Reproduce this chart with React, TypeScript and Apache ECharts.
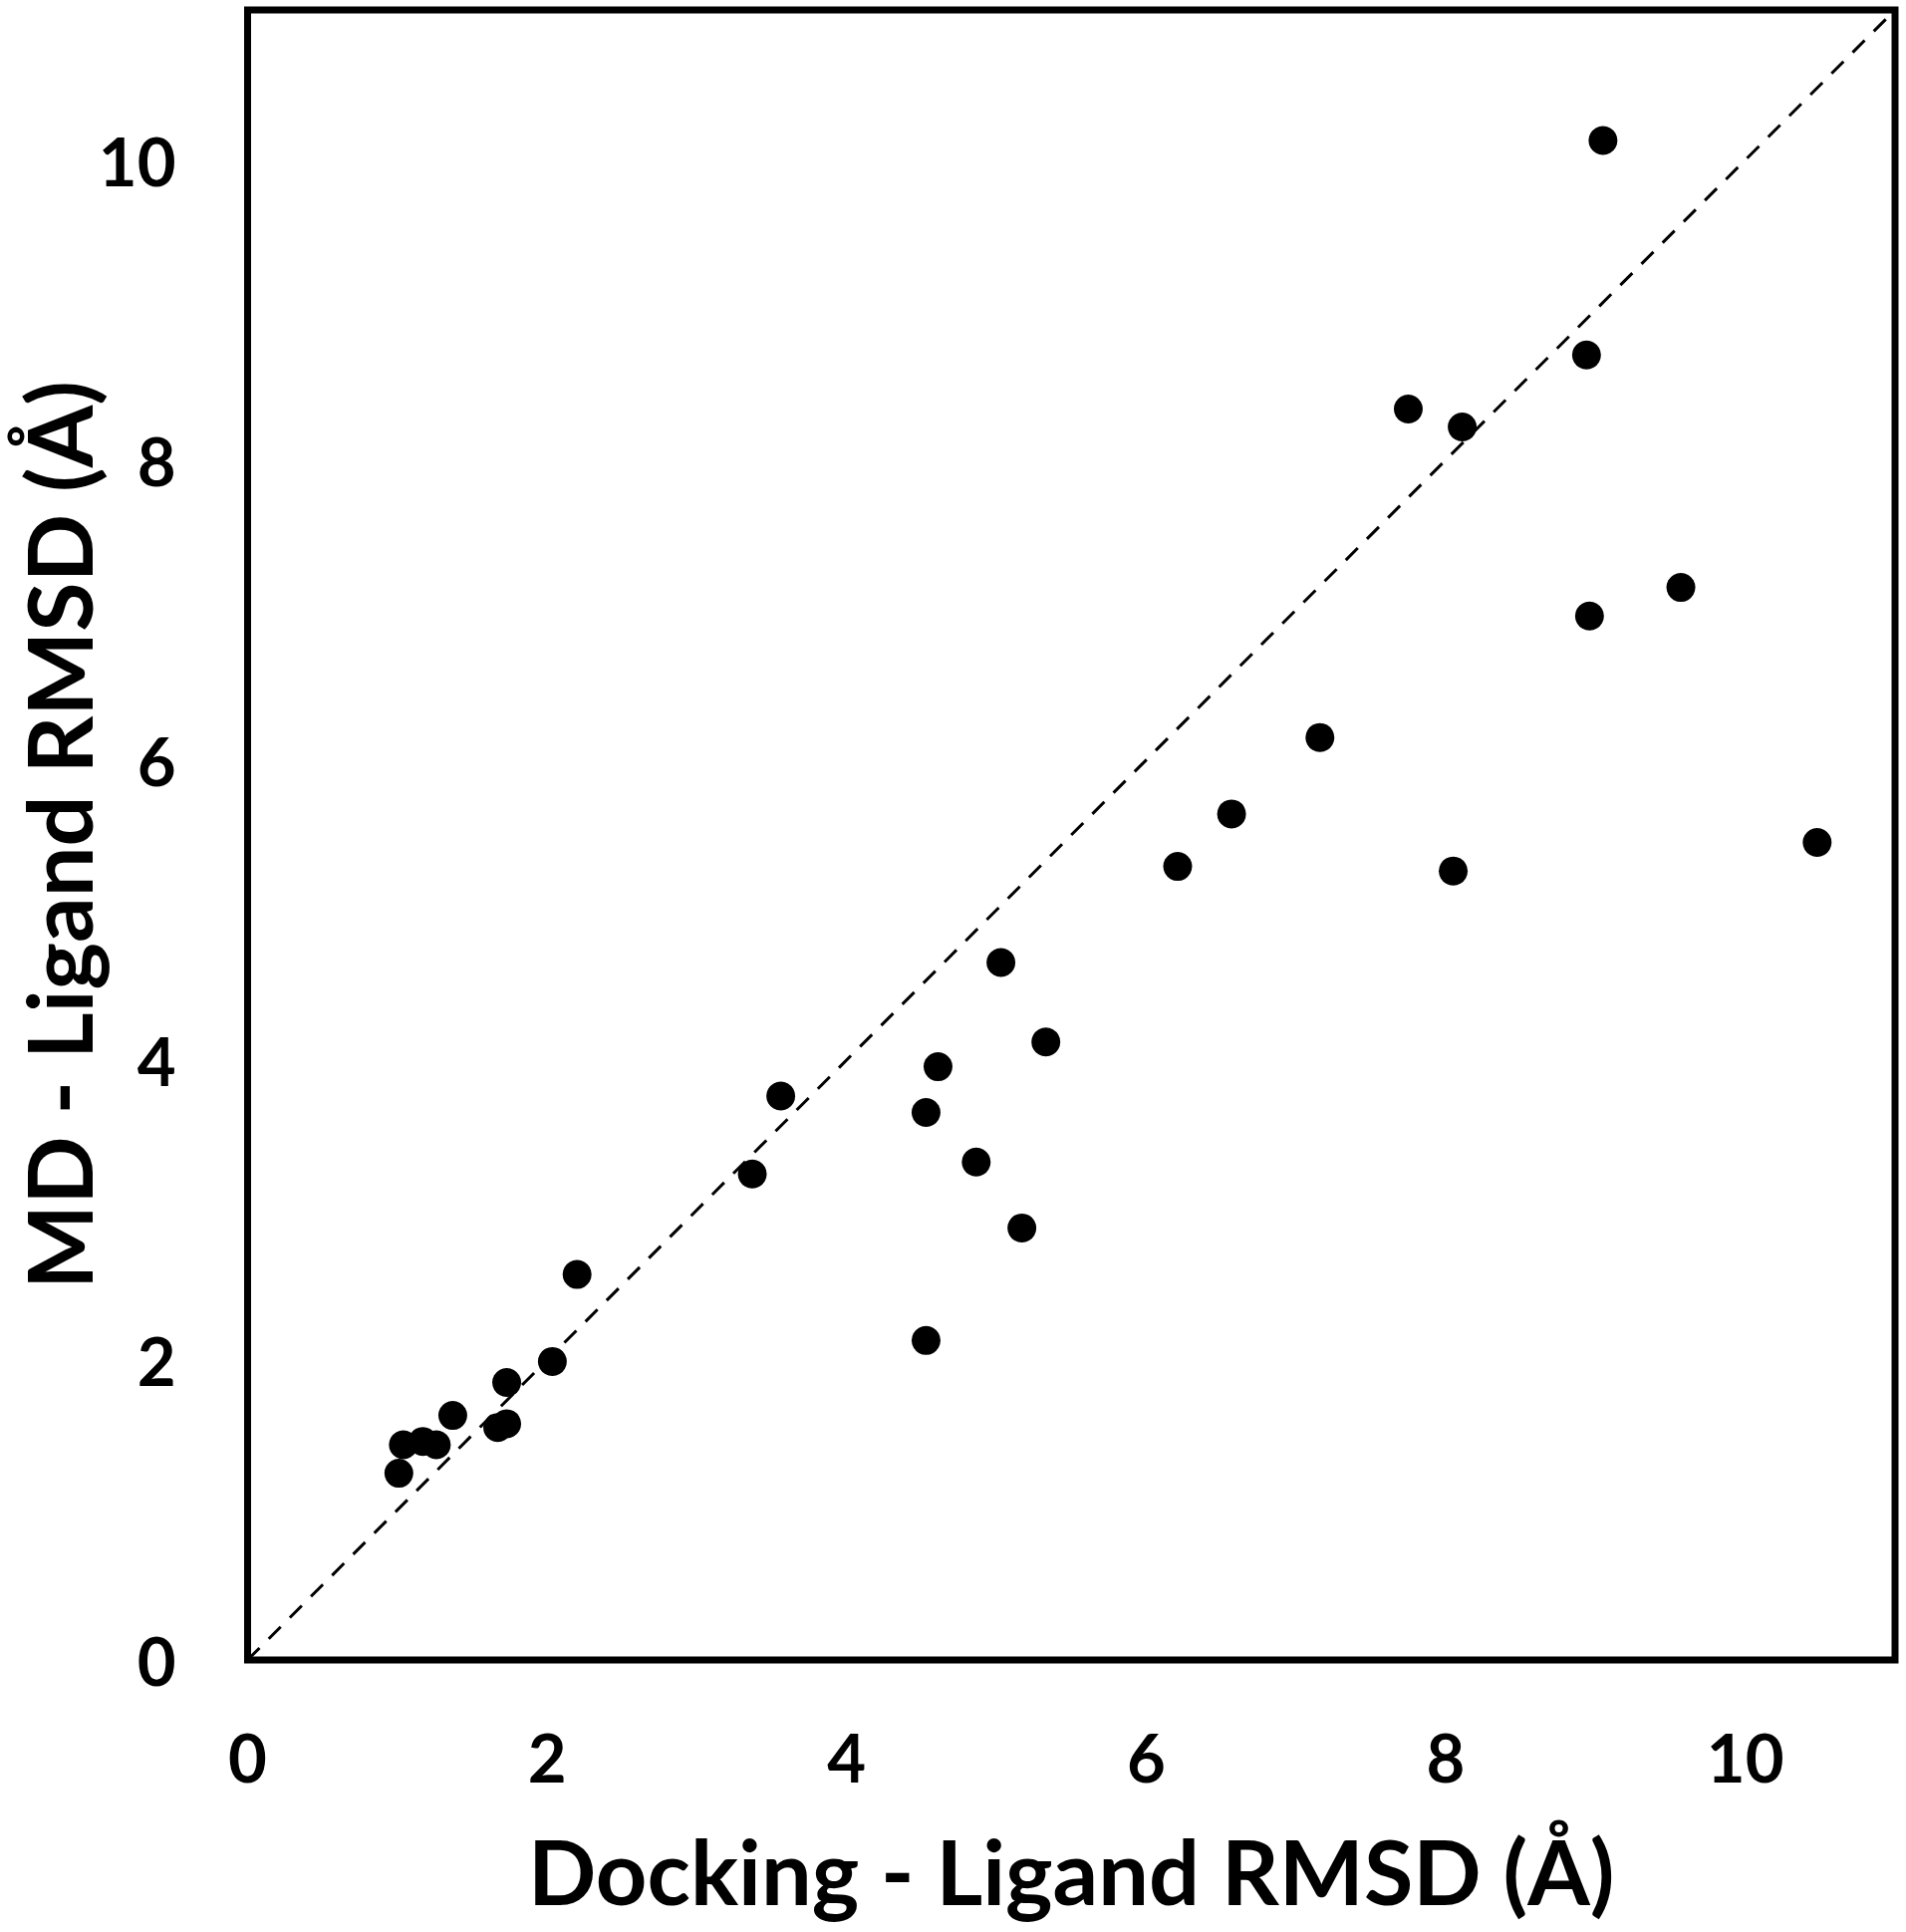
import React, { useEffect, useRef } from "react";
import * as echarts from "echarts";

const dockingRmsd: number[] = [
  9.05, 8.94, 7.75, 8.11, 9.57, 8.96, 7.16, 6.57, 6.21, 8.05,
  10.48, 5.03, 5.33, 4.61, 4.53, 3.56, 3.37, 4.865, 5.17, 4.53,
  2.2, 2.035, 1.73, 1.37, 1.73, 1.67, 1.17, 1.04, 1.26, 1.01,
];
const mdRmsd: number[] = [
  10.13, 8.7, 8.34, 8.22, 7.15, 6.96, 6.15, 5.64, 5.29, 5.26,
  5.45, 4.65, 4.12, 3.955, 3.65, 3.76, 3.24, 3.32, 2.88, 2.13,
  2.57, 1.99, 1.85, 1.63, 1.575, 1.55, 1.457, 1.435, 1.435, 1.245,
];
const identityLine: number[][] = [
  [0, 0],
  [11, 11],
];
const xTitle = "Docking - Ligand RMSD (Å)";
const yTitle = "MD - Ligand RMSD (Å)";

const FONT = "Lato, 'Open Sans', 'DejaVu Sans', sans-serif";

export default function App() {
  const ref = useRef<HTMLDivElement>(null);
  useEffect(() => {
    if (!ref.current) return;
    const chart = echarts.init(ref.current, undefined, { renderer: "svg" });
    const points = dockingRmsd.map((x, i) => [x, mdRmsd[i]]);
    chart.setOption({
      animation: false,
      backgroundColor: "#ffffff",
      grid: {
        left: 248.5,
        right: 11,
        top: 10,
        bottom: 273,
        containLabel: false,
        outerBoundsMode: "none",
        show: true,
        borderColor: "#000000",
        borderWidth: 7,
        backgroundColor: "transparent",
      },
      xAxis: {
        type: "value",
        min: 0,
        max: 11,
        interval: 2,
        name: xTitle,
        nameLocation: "middle",
        nameGap: 166,
        nameMoveOverlap: false,
        nameTextStyle: {
          fontFamily: FONT,
          fontWeight: "bold",
          fontSize: 90,
          color: "#000000",
        },
        axisLine: { show: false },
        axisTick: { show: false },
        splitLine: { show: false },
        axisLabel: {
          fontFamily: FONT,
          fontWeight: "bold",
          fontSize: 67,
          color: "#000000",
          margin: 63,
          showMaxLabel: false,
        },
      },
      yAxis: {
        type: "value",
        min: 0,
        max: 11,
        interval: 2,
        name: yTitle,
        nameLocation: "middle",
        nameRotate: 90,
        nameGap: 146,
        nameMoveOverlap: false,
        nameTextStyle: {
          fontFamily: FONT,
          fontWeight: "bold",
          fontSize: 90,
          color: "#000000",
        },
        axisLine: { show: false },
        axisTick: { show: false },
        splitLine: { show: false },
        axisLabel: {
          fontFamily: FONT,
          fontWeight: "bold",
          fontSize: 67,
          color: "#000000",
          margin: 72,
          showMaxLabel: false,
        },
      },
      series: [
        {
          type: "line",
          data: identityLine,
          symbol: "none",
          silent: true,
          lineStyle: { color: "#000000", width: 3, type: [17, 13] },
          z: 1,
        },
        {
          type: "scatter",
          data: points,
          symbol: "circle",
          symbolSize: 29,
          itemStyle: { color: "#000000", opacity: 1 },
          z: 2,
        },
      ],
    });
    return () => chart.dispose();
  }, []);
  return (
    <div
      ref={ref}
      style={{ position: "fixed", left: 0, top: 0, width: 1913, height: 1939 }}
    />
  );
}
